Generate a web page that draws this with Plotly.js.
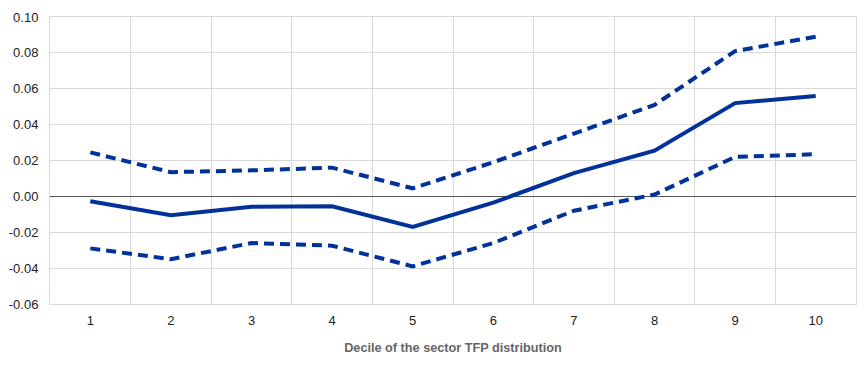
<!DOCTYPE html>
<html>
<head>
<meta charset="utf-8">
<script src="https://cdn.plot.ly/plotly-3.0.1.min.js"></script>
<style>html,body{margin:0;padding:0;background:#fff;}#chart{width:868px;height:366px;}</style>
</head>
<body>
<div id="chart"></div>
<script>
const deciles = ["1","2","3","4","5","6","7","8","9","10"];
const estimate = [-0.0027, -0.0105, -0.0058, -0.0055, -0.017, -0.0035, 0.013, 0.0255, 0.052, 0.056];
const upperBound = [0.0245, 0.0135, 0.0145, 0.016, 0.0045, 0.019, 0.035, 0.051, 0.081, 0.089];
const lowerBound = [-0.029, -0.035, -0.026, -0.0275, -0.039, -0.026, -0.008, 0.001, 0.022, 0.0235];
const yTicks = [-0.06, -0.04, -0.02, 0, 0.02, 0.04, 0.06, 0.08, 0.10];
const yTickText = ["-0.06","-0.04","-0.02","0.00","0.02","0.04","0.06","0.08","0.10"];

const blue = "#003299";
const traces = [
  {x: deciles, y: upperBound, mode: "lines", line: {color: blue, width: 4, dash: "10px,6px"}, hoverinfo: "skip"},
  {x: deciles, y: lowerBound, mode: "lines", line: {color: blue, width: 4, dash: "10px,6px"}, hoverinfo: "skip"},
  {x: deciles, y: estimate, mode: "lines", line: {color: blue, width: 4}, hoverinfo: "skip"}
];
const layout = {
  width: 868, height: 366,
  margin: {l: 50, r: 12, t: 17, b: 62},
  paper_bgcolor: "#fff", plot_bgcolor: "#fff",
  showlegend: false,
  font: {family: "Liberation Sans, Arial, sans-serif", size: 13, color: "#222"},
  xaxis: {
    type: "category", categoryorder: "array", categoryarray: deciles,
    range: [-0.5, 9.5],
    showgrid: true, gridcolor: "#d9d9d9", gridwidth: 1,
    tickson: "boundaries", ticks: "",
    showline: true, linecolor: "#d9d9d9", linewidth: 1, mirror: true,
    zeroline: false,
    ticklabelstandoff: 4,
    tickfont: {size: 13, color: "#222"},
    title: {text: "<b>Decile of the sector TFP distribution</b>", font: {size: 12.7, color: "#666"}, standoff: 16}
  },
  yaxis: {
    range: [-0.06, 0.10],
    tickvals: yTicks, ticktext: yTickText,
    showgrid: true, gridcolor: "#d9d9d9", gridwidth: 1,
    showline: true, linecolor: "#d9d9d9", linewidth: 1, mirror: true,
    zeroline: true, zerolinecolor: "#555", zerolinewidth: 1,
    ticklabelstandoff: 8,
    ticks: "", tickfont: {size: 13, color: "#222"}
  }
};
Plotly.newPlot("chart", traces, layout, {displayModeBar: false, staticPlot: true});
</script>
</body>
</html>
